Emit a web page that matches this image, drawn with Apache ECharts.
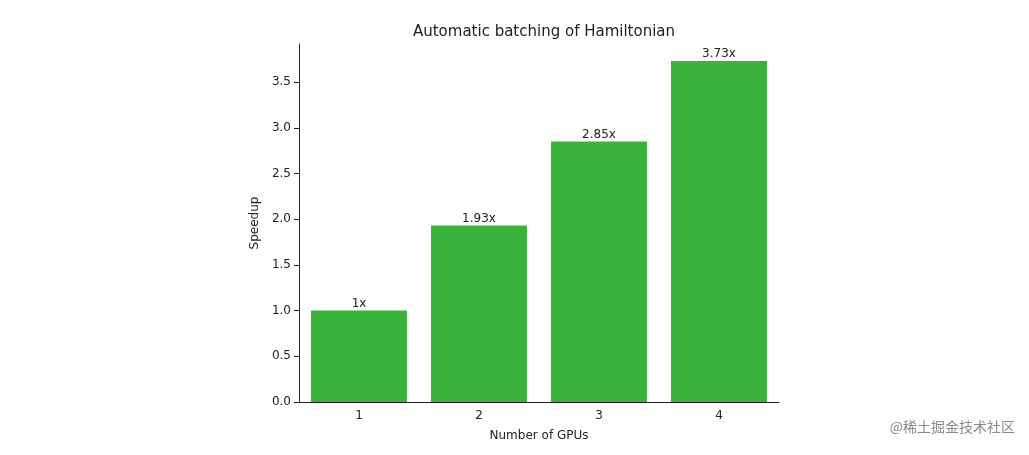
<!DOCTYPE html>
<html><head><meta charset="utf-8">
<script src="https://cdn.jsdelivr.net/npm/echarts@6/dist/echarts.min.js"></script>
<style>html,body{margin:0;background:#fff}#c{width:1029px;height:455px}</style>
</head><body><div id="c"></div>
<script>
const categories = ['1','2','3','4'];
const speedups = [1, 1.93, 2.85, 3.73];
const labels = ['1x','1.93x','2.85x','3.73x'];
const yTicks = [0,0.5,1,1.5,2,2.5,3,3.5];
const chart = echarts.init(document.getElementById('c'));
const font = 'DejaVu Sans';
chart.setOption({
  animation:false,
  title:{text:'Automatic batching of Hamiltonian',left:539,top:20,textAlign:'center',
    textStyle:{fontFamily:font,fontSize:15,fontWeight:'normal',color:'#222'}},
  graphic:[{type:'text',right:14,top:420,style:{text:'@稀土掘金技术社区',fontFamily:'Noto Sans CJK SC',fontSize:14,fill:'#8a8a8a'}}],
  grid:{left:299,right:250,top:44,bottom:53},
  xAxis:{type:'category',data:categories,name:'Number of GPUs',nameLocation:'middle',nameGap:28,
    nameTextStyle:{fontFamily:font,fontSize:12,color:'#222'},
    axisLine:{lineStyle:{color:'#222'}},axisTick:{alignWithLabel:true,lineStyle:{color:'#222'}},
    axisLabel:{fontFamily:font,fontSize:12,color:'#222'}},
  yAxis:{type:'value',min:0,max:3.9165,interval:0.5,name:'Speedup',nameLocation:'middle',nameGap:38,
    nameTextStyle:{fontFamily:font,fontSize:12,color:'#222'},
    splitLine:{show:false},axisLine:{show:true,lineStyle:{color:'#222'}},axisTick:{show:true,lineStyle:{color:'#222'}},
    axisLabel:{fontFamily:font,fontSize:12,color:'#222',showMaxLabel:false,
      formatter:v=>yTicks.includes(v)?v.toFixed(1):''}},
  series:[{type:'bar',data:speedups,barCategoryGap:'20%',itemStyle:{color:'#3bb33b'},
    label:{show:true,position:'top',distance:1,fontFamily:font,fontSize:12,color:'#222',
      formatter:p=>labels[p.dataIndex]}}]
});
</script></body></html>
